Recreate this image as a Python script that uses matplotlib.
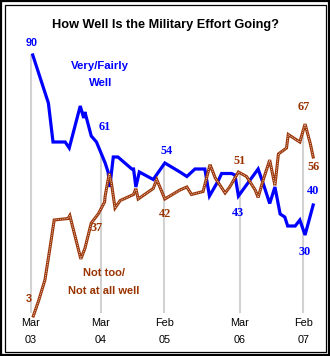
import matplotlib
matplotlib.use("Agg")
import numpy as np
import matplotlib.pyplot as plt
from matplotlib.patches import Rectangle

# Survey timing in months since March 2003
tick_months = [0, 12, 23, 36, 47]
tick_top = ["Mar", "Mar", "Feb", "Mar", "Feb"]
tick_bottom = ["03", "04", "05", "06", "07"]

well_months = [0.3, 3.0, 3.8, 5.9, 6.6, 8.5, 9.1, 9.3, 10.4, 11.3, 12.8, 13.3, 13.6,
               14.2, 15.0, 17.4, 17.7, 18.1, 18.7, 21.1, 23.1, 25.7, 26.9, 28.3,
               30.0, 30.8, 32.3, 32.9, 34.6, 35.2, 35.8, 39.2, 40.1, 41.2, 42.1,
               43.0, 43.8, 44.3, 45.6, 46.4, 47.3, 48.7]
well_values = [90, 74, 61, 61, 59, 73, 69, 71, 63, 61, 54, 51, 46,
               56, 56, 52, 52, 46, 51, 48.5, 54, 51, 49.5, 52,
               52, 43, 48, 50.5, 50.5, 50, 43, 52, 47, 40.5, 46,
               37, 36, 33, 33, 35, 30, 40]

notwell_months = [0.4, 1.3, 2.4, 3.3, 4.0, 6.4, 6.7, 8.6, 9.3, 10.4, 11.6, 12.7,
                  12.8, 13.5, 13.9, 14.5, 15.4, 17.7, 18.1, 18.5, 21.1, 21.7, 23.1,
                  25.7, 26.9, 27.7, 29.7, 30.9, 31.8, 33.5, 34.3, 35.8, 37.2, 38.7,
                  39.2, 40.1, 41.2, 42.1, 42.7, 44.1, 44.4, 46.4, 47.3, 48.2, 48.7]
notwell_values = [3, 8, 15, 26, 35, 35.5, 36.5, 22, 25.5, 34, 37, 41,
                  43, 50.5, 47, 39, 41.5, 43.5, 45.5, 42, 45.5, 48.5, 42,
                  45, 46, 43.5, 44.5, 53.5, 49, 44, 46, 51, 49.5, 45,
                  42.5, 48.5, 55, 46.5, 57, 59, 63.5, 61, 67, 60.5, 56]

# Labelled readings: (month, value, text offset in points)
well_labels = [(0.3, 90, (-1, 9)), (11.3, 61, (6, 11)), (23.1, 54, (1, 9)),
               (35.8, 43, (0, -12)), (47.3, 30, (0, -12)), (48.7, 40, (0, 10))]
notwell_labels = [(0.4, 3, (-3, 12)), (11.6, 37, (-1, -10)), (23.1, 42, (0, -11)),
                  (35.8, 51, (1, 8)), (47.3, 67, (-1, 12)), (48.7, 56, (0, -7))]

BLUE = "#0000ff"
BROWN = "#993300"
LINE_BROWN = "#9c3608"
GRID = "#d2d2d2"

W, H = 330, 356
fig = plt.figure(figsize=(W / 100, H / 100), dpi=100)
fig.patch.set_facecolor("white")

# double frame round the figure
fig.add_artist(Rectangle((1 / W, 1 / H), (W - 2) / W, (H - 2) / H, transform=fig.transFigure,
                         fill=False, edgecolor="black", linewidth=1.6))
fig.add_artist(Rectangle((4.5 / W, 4.5 / H), (W - 9) / W, (H - 9) / H, transform=fig.transFigure,
                         fill=False, edgecolor="black", linewidth=0.9))

# axes box: pixels x 20..320, y 40..320 (from top)
ax = fig.add_axes([20 / W, (H - 320) / H, 300 / W, 280 / H])
ax.set_xlim((20 - 31) / 5.794, (320 - 31) / 5.794)
ax.set_ylim(90 - 265 / 3, 90 + 15 / 3)
ax.axis("off")

font = "Liberation Sans"
serif = "Liberation Serif"

fig.text(0.5, (H - 25) / H, "How Well Is the Military Effort Going?", ha="center", va="center",
         fontsize=9.2, fontweight="bold", family=font)


def top_value(m):
    a = np.interp(m, well_months, well_values)
    b = np.interp(m, notwell_months, notwell_values)
    return max(a, b)


# vertical guide lines from the upper series down to the base
for m in tick_months:
    ax.plot([m, m], [top_value(m), 4], color=GRID, linewidth=1.5, zorder=1,
            solid_capstyle="butt")

ax.plot(well_months, well_values, color=BLUE, linewidth=2.3, zorder=3,
        solid_joinstyle="miter")
ax.plot(notwell_months, notwell_values, color=LINE_BROWN, linewidth=2.2, zorder=4,
        solid_joinstyle="miter")
ax.plot(notwell_months, notwell_values, color="white", linewidth=0.55, zorder=5,
        dashes=(1.0, 1.4))

for m, v, off in well_labels:
    fam = font if v == 90 else serif
    ax.annotate(f"{v:g}", (m, v), xytext=off, textcoords="offset points", ha="center",
                va="center", color=BLUE, fontsize=8.8 if fam == serif else 7.8,
                fontweight="bold", family=fam, zorder=6)
for m, v, off in notwell_labels:
    fam = font if v == 3 else serif
    ax.annotate(f"{v:g}", (m, v), xytext=off, textcoords="offset points", ha="center",
                va="center", color=BROWN, fontsize=8.8 if fam == serif else 7.8,
                fontweight="bold", family=fam, zorder=6)

fig.text(100 / W, (H - 66) / H, "Very/Fairly", ha="center", va="center", color=BLUE,
         fontsize=8.2, fontweight="bold", family=font)
fig.text(101 / W, (H - 83) / H, "Well", ha="center", va="center", color=BLUE,
         fontsize=8.2, fontweight="bold", family=font)
fig.text(104 / W, (H - 273) / H, "Not too/", ha="center", va="center", color=BROWN,
         fontsize=8.0, fontweight="bold", family=font)
fig.text(104 / W, (H - 291) / H, "Not at all well", ha="center", va="center", color=BROWN,
         fontsize=8.0, fontweight="bold", family=font)

for m, t1, t2 in zip(tick_months, tick_top, tick_bottom):
    xf = ax.transData.transform((m, 0))[0] / fig.bbox.width
    fig.text(xf, (H - 323) / H, t1, ha="center", va="center", fontsize=7.8, family=font)
    fig.text(xf, (H - 340) / H, t2, ha="center", va="center", fontsize=7.8, family=font)

fig.savefig("out.png", dpi=100, facecolor="white")
